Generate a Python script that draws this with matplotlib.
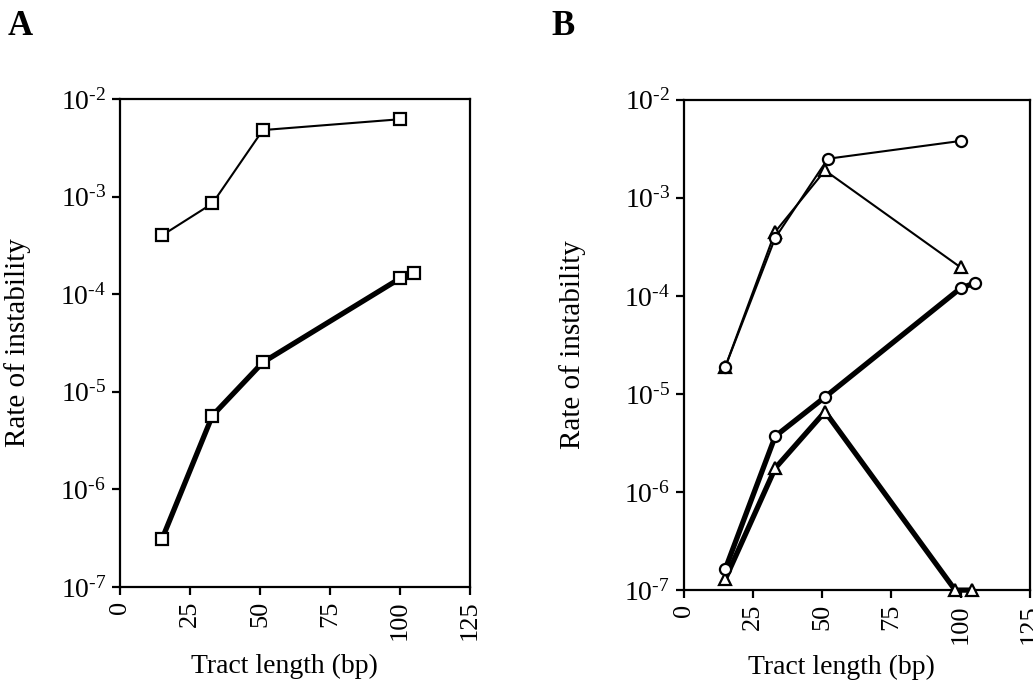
import numpy as np
import matplotlib
matplotlib.use("Agg")
import matplotlib.pyplot as plt
from matplotlib.ticker import FixedLocator, NullLocator

plt.rcParams["font.family"] = ["Liberation Serif", "DejaVu Serif"]
plt.rcParams["mathtext.fontset"] = "custom"
plt.rcParams["mathtext.rm"] = "Liberation Serif"
plt.rcParams["mathtext.it"] = "Liberation Serif:italic"

# Panel A: square markers
a_thin_x = [15, 33, 51, 100]
a_thin_y = [4.0e-4, 8.5e-4, 4.8e-3, 6.2e-3]
a_thick_x = [15, 33, 51, 100, 105]
a_thick_y = [3.1e-7, 5.7e-6, 2.0e-5, 1.45e-4, 1.65e-4]

# Panel B: circle and triangle markers
b_thin_circ_x = [15, 33, 52, 100]
b_thin_circ_y = [1.9e-5, 3.9e-4, 2.5e-3, 3.8e-3]
b_thin_tri_x = [15, 33, 51, 100]
b_thin_tri_y = [1.9e-5, 4.5e-4, 1.9e-3, 1.95e-4]
b_thick_circ_x = [15, 33, 51, 100, 105]
b_thick_circ_y = [1.65e-7, 3.7e-6, 9.3e-6, 1.2e-4, 1.35e-4]
b_thick_tri_x = [15, 33, 51, 98, 104]
b_thick_tri_y = [1.3e-7, 1.75e-6, 6.6e-6, 1.0e-7, 1.0e-7]

x_ticks = [0, 25, 50, 75, 100, 125]
y_ticks = [1e-7, 1e-6, 1e-5, 1e-4, 1e-3, 1e-2]
y_exps = [-7, -6, -5, -4, -3, -2]

THIN = 1.5
THICK = 3.8


def style_axis(ax, ylab_x, xlab_xy):
    ax.set_yscale("log")
    ax.set_xlim(0, 125)
    ax.set_ylim(1e-7, 1e-2)
    ax.xaxis.set_major_locator(FixedLocator(x_ticks))
    ax.set_xticklabels([str(t) for t in x_ticks], rotation=90, fontsize=19)
    ax.yaxis.set_major_locator(FixedLocator(y_ticks))
    ax.yaxis.set_minor_locator(NullLocator())
    ax.set_yticklabels([r"10$^{\text{-%d}}$" % abs(e) for e in y_exps], fontsize=20)
    ax.tick_params(axis="both", direction="out", length=6, width=1.6,
                   top=False, right=False, pad=4)
    for sp in ax.spines.values():
        sp.set_linewidth(1.6)
    ax.set_xlabel("Tract length (bp)", fontsize=20)
    ax.xaxis.set_label_coords(*xlab_xy)
    ax.set_ylabel("Rate of instability", fontsize=21)
    ax.yaxis.set_label_coords(ylab_x, 0.5)


def draw(ax, x, y, marker, lw, ms=8):
    ax.plot(x, y, color="black", lw=lw, marker=marker, markersize=ms,
            markerfacecolor="white", markeredgecolor="black",
            markeredgewidth=1.6, clip_on=False, zorder=3)


fig = plt.figure(figsize=(10.33, 6.83), dpi=100)

ax_a = fig.add_axes([0.1162, 0.1406, 0.3388, 0.7145])
draw(ax_a, a_thin_x, a_thin_y, "s", THIN)
draw(ax_a, a_thick_x, a_thick_y, "s", THICK)
style_axis(ax_a, -0.253, (0.469, -0.137))

ax_b = fig.add_axes([0.662, 0.136, 0.335, 0.718])
draw(ax_b, b_thin_tri_x, b_thin_tri_y, "^", THIN)
draw(ax_b, b_thin_circ_x, b_thin_circ_y, "o", THIN)
draw(ax_b, b_thick_tri_x, b_thick_tri_y, "^", THICK)
draw(ax_b, b_thick_circ_x, b_thick_circ_y, "o", THICK)
style_axis(ax_b, -0.282, (0.454, -0.131))

fig.text(0.007, 0.985, "A", fontsize=25, fontweight="bold", va="top")
fig.text(0.534, 0.985, "B", fontsize=25, fontweight="bold", va="top")

fig.savefig("out.png", dpi=100)
